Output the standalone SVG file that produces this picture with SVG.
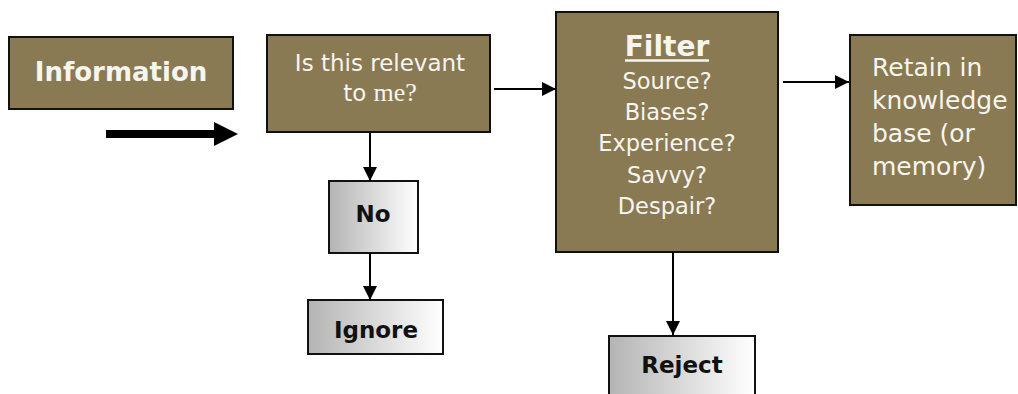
<svg xmlns="http://www.w3.org/2000/svg" width="1018" height="394" viewBox="0 0 1018 394">
<defs>
<linearGradient id="gray" x1="0" y1="0" x2="1" y2="0">
<stop offset="0" stop-color="#b4b4b4"/>
<stop offset="1" stop-color="#ffffff"/>
</linearGradient>
<marker id="ah" markerWidth="14" markerHeight="14" refX="14" refY="7" orient="auto" markerUnits="userSpaceOnUse">
<path d="M0,0 L14,7 L0,14 Z" fill="#000"/>
</marker>
</defs>
<style>
.brown{fill:#8a7a54;stroke:#111;stroke-width:2}
.grayb{fill:url(#gray);stroke:#111;stroke-width:2}
.wt{fill:#f6f5ef;font-family:"DejaVu Sans",sans-serif}
.bt{fill:#111;font-family:"DejaVu Sans",sans-serif;font-weight:bold;font-size:23px;text-anchor:middle}
.conn{stroke:#000;stroke-width:2;fill:none;marker-end:url(#ah)}
</style>
<rect width="1018" height="394" fill="#fff"/>
<g id="information">
<rect class="brown" x="9" y="37" width="224" height="72"/>
<text class="wt" x="121" y="81" font-size="26" font-weight="bold" text-anchor="middle">Information</text>
</g>
<g id="relevant">
<rect class="brown" x="267" y="35" width="223" height="97"/>
<text class="wt" x="380" y="71" font-size="23" text-anchor="middle">Is this relevant</text>
<text class="wt" x="380" y="101" font-size="23" text-anchor="middle">to <tspan font-family="'Liberation Serif',serif" font-size="26">me?</tspan></text>
</g>
<g id="filter">
<rect class="brown" x="556" y="12" width="222" height="240"/>
<text class="wt" x="667" y="56" font-size="28" font-weight="bold" text-anchor="middle">Filter</text>
<line x1="625" y1="60.5" x2="709" y2="60.5" stroke="#f6f5ef" stroke-width="2.5"/>
<text class="wt" font-size="22.5" text-anchor="middle"><tspan x="667" y="89">Source?</tspan><tspan x="667" y="120">Biases?</tspan><tspan x="667" y="151">Experience?</tspan><tspan x="667" y="183">Savvy?</tspan><tspan x="667" y="214">Despair?</tspan></text>
</g>
<g id="retain">
<rect class="brown" x="850" y="35" width="166" height="170"/>
<text class="wt" font-size="25"><tspan x="872" y="76">Retain in</tspan><tspan x="872" y="109">knowledge</tspan><tspan x="872" y="142">base (or</tspan><tspan x="872" y="175">memory)</tspan></text>
</g>
<g id="no">
<rect class="grayb" x="329" y="181" width="89" height="72"/>
<text class="bt" x="373" y="222">No</text>
</g>
<g id="ignore">
<rect class="grayb" x="308" y="300" width="135" height="54"/>
<text class="bt" x="376" y="338">Ignore</text>
</g>
<g id="reject">
<rect class="grayb" x="609" y="336" width="146" height="70"/>
<text class="bt" x="682" y="373">Reject</text>
</g>
<g id="connectors">
<rect x="106" y="130" width="111" height="8" fill="#000"/>
<path d="M214,122 L238,134 L214,146 Z" fill="#000"/>
<line class="conn" x1="494" y1="89" x2="556" y2="89"/>
<line class="conn" x1="783" y1="82" x2="849" y2="82"/>
<line class="conn" x1="370" y1="132" x2="370" y2="181"/>
<line class="conn" x1="370" y1="253" x2="370" y2="300"/>
<line class="conn" x1="673" y1="252" x2="673" y2="335"/>
</g>
</svg>
